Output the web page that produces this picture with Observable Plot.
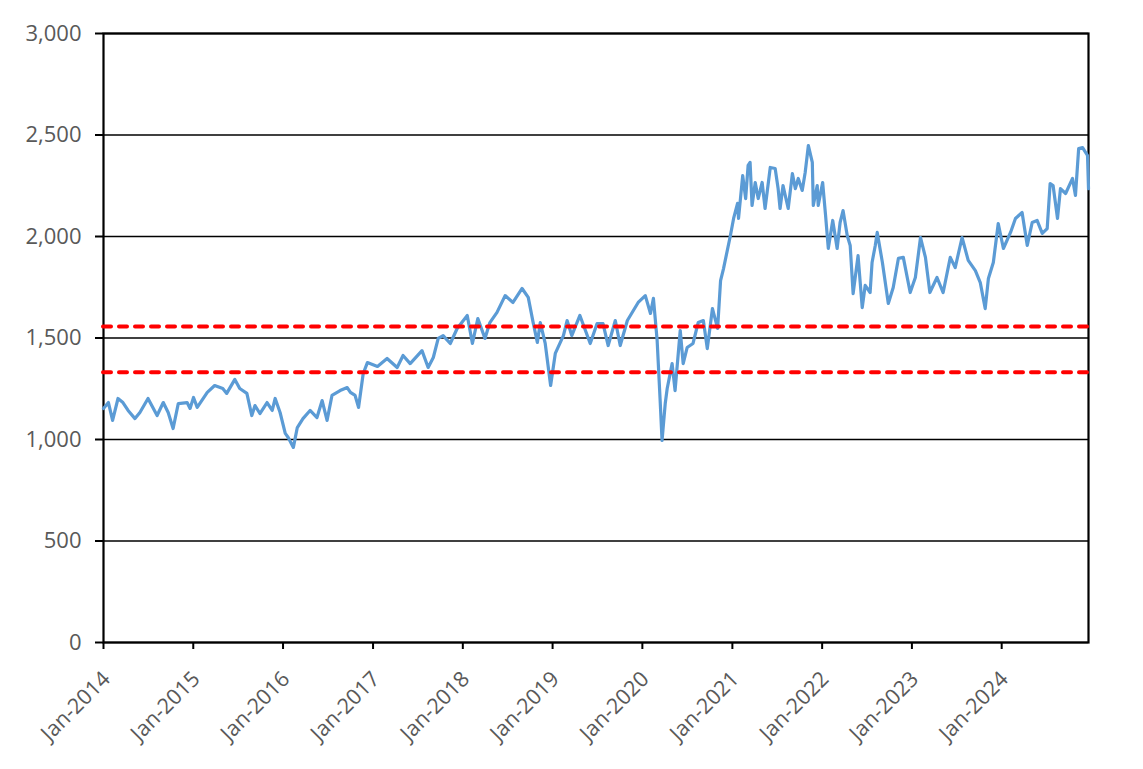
<!DOCTYPE html>
<html>
<head>
<meta charset="utf-8">
<script src="https://cdn.jsdelivr.net/npm/d3@7"></script>
<script src="https://cdn.jsdelivr.net/npm/@observablehq/plot@0.6"></script>
<style>
  html, body { margin: 0; padding: 0; background: #fff; }
  #chart { width: 1143px; height: 769px; }
</style>
</head>
<body>
<div id="chart"></div>
<script>
// [date, index level]
const seriesPoints = [
["2014-01-01",1153],["2014-01-21",1182],["2014-02-07",1094],["2014-03-01",1202],["2014-03-21",1182],
["2014-04-11",1143],["2014-05-09",1103],["2014-05-29",1133],["2014-07-01",1202],["2014-08-07",1118],
["2014-09-01",1182],["2014-09-21",1133],["2014-10-11",1054],["2014-11-01",1177],["2014-12-07",1182],
["2014-12-19",1153],["2015-01-02",1207],["2015-01-17",1158],["2015-02-27",1232],["2015-03-29",1266],
["2015-05-01",1251],["2015-05-17",1227],["2015-06-19",1296],["2015-07-09",1251],["2015-08-07",1227],
["2015-08-27",1118],["2015-09-09",1167],["2015-09-29",1128],["2015-10-28",1182],["2015-11-18",1143],
["2015-11-30",1202],["2015-12-20",1133],["2016-01-10",1030],["2016-01-22",1010],["2016-02-12",961],
["2016-02-28",1059],["2016-03-22",1103],["2016-04-20",1143],["2016-05-18",1108],["2016-06-08",1192],
["2016-06-28",1094],["2016-07-18",1217],["2016-08-20",1241],["2016-09-18",1256],["2016-10-01",1232],
["2016-10-20",1217],["2016-11-03",1158],["2016-11-22",1325],["2016-12-09",1379],["2017-01-19",1360],
["2017-02-27",1399],["2017-04-09",1355],["2017-05-03",1414],["2017-06-01",1374],["2017-07-19",1438],
["2017-08-13",1355],["2017-09-03",1404],["2017-09-23",1498],["2017-10-13",1512],["2017-11-11",1473],
["2017-12-09",1547],["2018-01-19",1611],["2018-02-09",1473],["2018-03-03",1596],["2018-04-01",1498],
["2018-04-21",1576],["2018-05-20",1626],["2018-06-22",1709],["2018-07-24",1675],["2018-08-30",1744],
["2018-09-24",1700],["2018-10-14",1576],["2018-10-31",1478],["2018-11-12",1576],["2018-12-02",1473],
["2018-12-24",1266],["2019-01-12",1424],["2019-02-14",1512],["2019-03-01",1586],["2019-03-20",1512],
["2019-04-22",1611],["2019-06-03",1473],["2019-07-01",1571],["2019-07-25",1571],["2019-08-15",1463],
["2019-09-13",1586],["2019-10-03",1463],["2019-11-01",1586],["2019-12-15",1675],["2020-01-13",1709],
["2020-02-03",1621],["2020-02-15",1695],["2020-03-01",1490],["2020-03-13",1200],["2020-03-21",995],
["2020-04-03",1177],["2020-04-11",1251],["2020-05-01",1374],["2020-05-13",1241],["2020-06-03",1537],
["2020-06-15",1374],["2020-07-01",1453],["2020-07-25",1473],["2020-08-15",1576],["2020-09-05",1586],
["2020-09-21",1448],["2020-10-12",1645],["2020-11-02",1547],["2020-11-14",1783],["2020-11-26",1842],
["2020-12-24",2005],["2021-01-06",2089],["2021-01-22",2163],["2021-01-26",2089],["2021-02-12",2300],
["2021-02-24",2187],["2021-03-06",2350],["2021-03-14",2365],["2021-03-22",2153],["2021-04-04",2266],
["2021-04-16",2187],["2021-05-02",2266],["2021-05-14",2138],["2021-06-04",2340],["2021-06-24",2335],
["2021-07-06",2236],["2021-07-14",2138],["2021-07-26",2251],["2021-08-16",2138],["2021-09-02",2310],
["2021-09-14",2236],["2021-09-26",2286],["2021-10-12",2227],["2021-10-24",2315],["2021-11-06",2448],
["2021-11-22",2365],["2021-11-26",2153],["2021-12-12",2251],["2021-12-16",2153],["2022-01-03",2266],
["2022-01-15",2103],["2022-01-26",1941],["2022-02-13",2079],["2022-03-03",1941],["2022-03-15",2069],
["2022-03-27",2128],["2022-04-13",2005],["2022-04-25",1956],["2022-05-07",1719],["2022-05-27",1906],
["2022-06-13",1650],["2022-06-25",1759],["2022-07-15",1724],["2022-07-23",1872],["2022-08-05",1956],
["2022-08-13",2020],["2022-09-03",1872],["2022-09-27",1670],["2022-10-17",1749],["2022-11-07",1892],
["2022-11-27",1897],["2022-12-25",1724],["2023-01-15",1798],["2023-02-05",1995],["2023-02-25",1897],
["2023-03-15",1724],["2023-04-13",1798],["2023-05-08",1724],["2023-06-06",1897],["2023-06-26",1847],
["2023-07-24",1995],["2023-08-18",1882],["2023-09-16",1832],["2023-10-06",1773],["2023-10-26",1645],
["2023-11-08",1793],["2023-11-28",1872],["2023-12-18",2064],["2024-01-08",1941],["2024-02-06",2020],
["2024-02-26",2089],["2024-03-24",2118],["2024-04-14",1956],["2024-05-04",2069],["2024-05-24",2079],
["2024-06-14",2015],["2024-07-04",2039],["2024-07-16",2261],["2024-07-28",2251],["2024-08-15",2089],
["2024-08-27",2236],["2024-09-17",2212],["2024-10-15",2286],["2024-10-27",2202],["2024-11-09",2433],
["2024-11-25",2438],["2024-12-15",2399],["2024-12-19",2236]
];
const bandLevels = [1557, 1331];
const yTicks = [0, 500, 1000, 1500, 2000, 2500, 3000];
const xTickYears = ["2014","2015","2016","2017","2018","2019","2020","2021","2022","2023","2024"];
const xDomain = ["2014-01-01", "2024-12-19"];

const parse = s => new Date(s + "T00:00:00Z");
const data = seriesPoints.map(([d, v]) => ({date: parse(d), value: v}));
const xTicks = xTickYears.map(y => parse(y + "-01-01"));
const fmtMonth = d3.utcFormat("%b-%Y");

const chart = Plot.plot({
  width: 1143,
  height: 769,
  marginLeft: 103,
  marginRight: 55,
  marginTop: 33,
  marginBottom: 127,
  style: {fontFamily: "'Open Sans', sans-serif", fontSize: "20px", background: "#fff", overflow: "visible"},
  x: {type: "utc", domain: xDomain.map(parse)},
  y: {domain: [0, 3000], label: null},
  marks: [
    Plot.gridY(yTicks, {stroke: "#000", strokeOpacity: 1, strokeWidth: 1.6}),
    Plot.frame({stroke: "#000", strokeWidth: 2.2}),
    Plot.axisY(yTicks, {tickFormat: d3.format(","), tickSize: 8, tickPadding: 14, stroke: "#000", strokeWidth: 2, fill: "#595959", fontSize: 22, label: null}),
    // tick marks
    Plot.axisX(xTicks, {tickFormat: () => "", tickSize: 7, stroke: "#000", strokeWidth: 2, label: null}),
    // rotated tick labels
    Plot.axisX(xTicks, {tickFormat: fmtMonth, tickSize: 0, tickPadding: 33, tickRotate: -45, dx: 3, fill: "#595959", fontSize: 21.5, label: null}),
    Plot.lineY(data, {x: "date", y: "value", stroke: "#5B9BD5", strokeWidth: 3.2, strokeLinejoin: "round"}),
    Plot.ruleY(bandLevels, {stroke: "#FF0000", strokeWidth: 4, strokeDasharray: "8,8", strokeLinecap: "round"})
  ]
});
document.getElementById("chart").appendChild(chart);
</script>
</body>
</html>
